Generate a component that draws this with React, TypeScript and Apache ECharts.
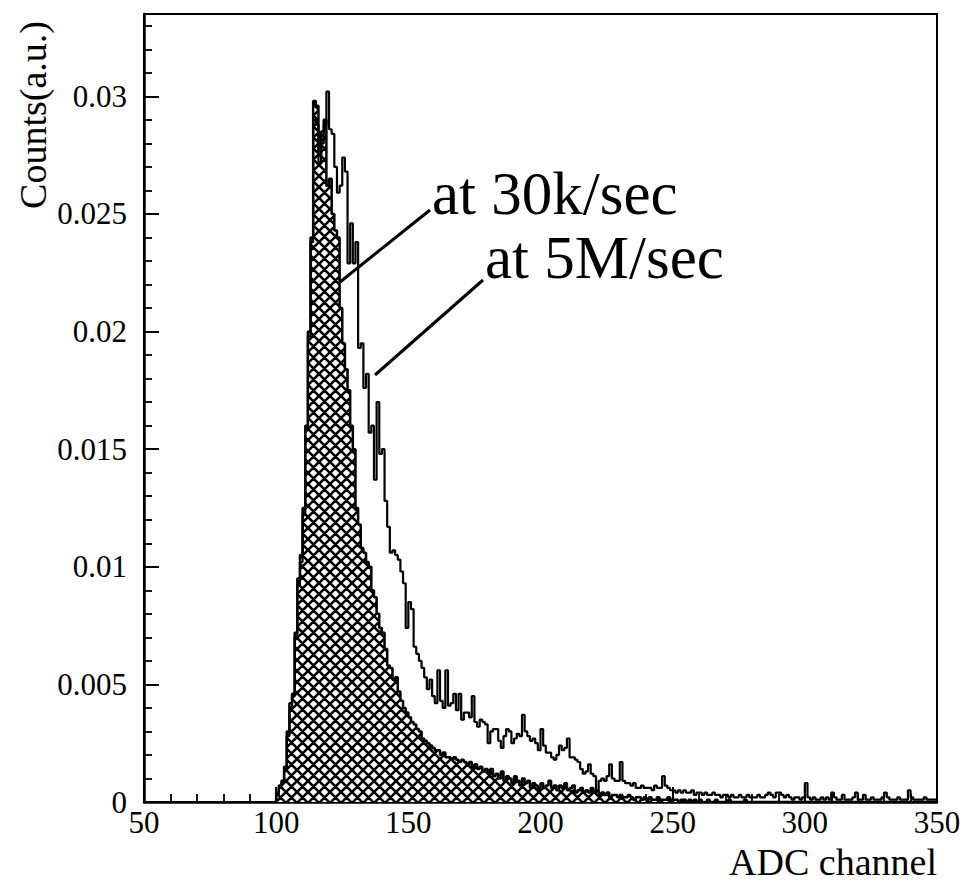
import React, { useEffect, useRef } from "react";
import * as echarts from "echarts";

// ---- data (bins of 1 ADC channel, starting at channel 100) ----
const FIRST_CHANNEL = 100;
const BIN_WIDTH = 1;

// hatched histogram: "at 30k/sec"
const rate30k = [
  0.0004, 0.0007, 0.0009, 0.0015, 0.0030, 0.0042, 0.0046, 0.0072, 0.0095, 0.0105,
  0.0125, 0.0160, 0.0200, 0.0240, 0.0298, 0.0296, 0.0275, 0.0285, 0.0290, 0.0262,
  0.0265, 0.0250, 0.0243, 0.0240, 0.0210, 0.0195, 0.0184, 0.0175, 0.0160, 0.0150,
  0.0125, 0.0118, 0.0108, 0.0106, 0.0102, 0.0100, 0.0090, 0.0087, 0.0080, 0.0074,
  0.0072, 0.0065, 0.0058, 0.0057, 0.0052, 0.0053, 0.0047, 0.0043, 0.0040, 0.0038,
  0.0036, 0.0034, 0.0033, 0.0031, 0.0030, 0.0027, 0.0026, 0.0025, 0.0024, 0.0023,
  0.0022, 0.0022, 0.0020, 0.0021, 0.0019, 0.0019, 0.0018, 0.0019, 0.0018, 0.0017,
  0.0018, 0.0017, 0.0016, 0.0017, 0.0015, 0.0016, 0.0014, 0.0015, 0.0013, 0.0014,
  0.0012, 0.0014, 0.0011, 0.0012, 0.0010, 0.0013, 0.0009, 0.0011, 0.0010, 0.0008,
  0.0011, 0.0009, 0.0007, 0.0010, 0.0008, 0.0009, 0.0006, 0.0008, 0.0007, 0.0005,
  0.0008, 0.0006, 0.0007, 0.0009, 0.0006, 0.0007, 0.0005, 0.0007, 0.0006, 0.0008,
  0.0005, 0.0006, 0.0007, 0.0004, 0.0005, 0.0006, 0.0004, 0.0005, 0.0004, 0.0006,
  0.0004, 0.0005, 0.0003, 0.0004, 0.0003, 0.0004, 0.0002, 0.0003, 0.0003, 0.0002,
  0.0003, 0.0002, 0.0002, 0.0003, 0.0002, 0.0001, 0.0002, 0.0002, 0.0001, 0.0002,
  0.0001, 0.0002, 0.0001, 0.0001, 0.0002, 0.0001, 0.0001, 0.0001, 0.0002, 0.0001,
  0.0001, 0.0001, 0.0000, 0.0001, 0.0001, 0.0000, 0.0001, 0.0000, 0.0001, 0.0000,
  0.0001, 0.0000, 0.0000, 0.0001, 0.0000, 0.0000, 0.0001, 0.0000, 0.0000, 0.0000,
  0.0000, 0.0001, 0.0000, 0.0000, 0.0000, 0.0000, 0.0000, 0.0001, 0.0000, 0.0000,
  0.0000, 0.0000, 0.0000, 0.0000, 0.0000, 0.0000, 0.0000, 0.0000, 0.0000, 0.0000,
  0.0000, 0.0000, 0.0000, 0.0000, 0.0000, 0.0000, 0.0000, 0.0000, 0.0000, 0.0000,
  0.0000, 0.0000, 0.0000, 0.0000, 0.0000, 0.0000, 0.0000, 0.0000, 0.0000, 0.0000,
  0.0000, 0.0000, 0.0000, 0.0000, 0.0000, 0.0000, 0.0000, 0.0000, 0.0000, 0.0000,
  0.0000, 0.0000, 0.0000, 0.0000, 0.0000, 0.0000, 0.0000, 0.0000, 0.0000, 0.0000,
  0.0000, 0.0000, 0.0000, 0.0000, 0.0000, 0.0000, 0.0000, 0.0000, 0.0000, 0.0000,
  0.0000, 0.0000, 0.0000, 0.0000, 0.0000, 0.0000, 0.0000, 0.0000, 0.0000, 0.0000,
];

// open histogram: "at 5M/sec"
const rate5M = [
  0.0003, 0.0006, 0.0008, 0.0014, 0.0028, 0.0040, 0.0045, 0.0070, 0.0092, 0.0102,
  0.0122, 0.0158, 0.0198, 0.0238, 0.0290, 0.0288, 0.0272, 0.0280, 0.0288, 0.0302,
  0.0286, 0.0284, 0.0270, 0.0259, 0.0262, 0.0274, 0.0268, 0.0229, 0.0246, 0.0229,
  0.0238, 0.0193, 0.0195, 0.0176, 0.0182, 0.0157, 0.0160, 0.0137, 0.0170, 0.0148,
  0.0150, 0.0128, 0.0117, 0.0106, 0.0107, 0.0105, 0.0103, 0.0098, 0.0093, 0.0074,
  0.0085, 0.0082, 0.0066, 0.0063, 0.0060, 0.0057, 0.0053, 0.0048, 0.0052, 0.0045,
  0.0042, 0.0056, 0.0043, 0.0040, 0.0056, 0.0041, 0.0042, 0.0046, 0.0039, 0.0046,
  0.0035, 0.0038, 0.0038, 0.0036, 0.0045, 0.0034, 0.0032, 0.0035, 0.0034, 0.0033,
  0.0025, 0.0030, 0.0031, 0.0031, 0.0026, 0.0023, 0.0028, 0.0031, 0.0030, 0.0025,
  0.0027, 0.0029, 0.0028, 0.0037, 0.0030, 0.0028, 0.0026, 0.0027, 0.0025, 0.0022,
  0.0031, 0.0024, 0.0021, 0.0021, 0.0019, 0.0018, 0.0020, 0.0024, 0.0022, 0.0023,
  0.0027, 0.0019, 0.0019, 0.0018, 0.0017, 0.0014, 0.0012, 0.0013, 0.0016, 0.0012,
  0.0011, 0.0005, 0.0009, 0.0010, 0.0009, 0.0011, 0.0016, 0.0010, 0.0009, 0.0009,
  0.0017, 0.0009, 0.0008, 0.0008, 0.0007, 0.0008, 0.0006, 0.0006, 0.0007, 0.0006,
  0.0006, 0.0006, 0.0005, 0.0007, 0.0006, 0.0006, 0.0011, 0.0007, 0.0006, 0.0005,
  0.0005, 0.0004, 0.0005, 0.0004, 0.0005, 0.0004, 0.0004, 0.0005, 0.0003, 0.0004,
  0.0004, 0.0003, 0.0004, 0.0003, 0.0003, 0.0004, 0.0003, 0.0003, 0.0002, 0.0003,
  0.0003, 0.0002, 0.0003, 0.0002, 0.0002, 0.0003, 0.0002, 0.0002, 0.0003, 0.0002,
  0.0002, 0.0002, 0.0003, 0.0002, 0.0002, 0.0003, 0.0004, 0.0003, 0.0002, 0.0004,
  0.0004, 0.0003, 0.0002, 0.0003, 0.0002, 0.0001, 0.0002, 0.0002, 0.0001, 0.0002,
  0.0008, 0.0002, 0.0001, 0.0002, 0.0001, 0.0001, 0.0002, 0.0001, 0.0002, 0.0001,
  0.0004, 0.0002, 0.0001, 0.0001, 0.0003, 0.0001, 0.0001, 0.0001, 0.0002, 0.0004,
  0.0001, 0.0001, 0.0003, 0.0001, 0.0001, 0.0002, 0.0001, 0.0001, 0.0001, 0.0002,
  0.0004, 0.0002, 0.0001, 0.0001, 0.0001, 0.0002, 0.0001, 0.0001, 0.0001, 0.0005,
  0.0002, 0.0001, 0.0001, 0.0001, 0.0001, 0.0002, 0.0001, 0.0001, 0.0001, 0.0001,
];

// axes
const X_MIN = 50;
const X_MAX = 350;
const X_STEP = 50;
const Y_MIN = 0;
const Y_MAX = 0.0335;
const Y_STEP = 0.005;
const Y_MINOR_STEP = 0.001;

const xAxisTitle = "ADC channel";
const yAxisTitle = "Counts(a.u.)";
const label30k = "at 30k/sec";
const label5M = "at 5M/sec";

const FONT = "Liberation Serif";

function toSteps(vals: number[]): number[][] {
  const pts: number[][] = [[FIRST_CHANNEL, 0]];
  vals.forEach((v, i) => pts.push([FIRST_CHANNEL + i * BIN_WIDTH, v]));
  pts.push([FIRST_CHANNEL + vals.length * BIN_WIDTH, 0]);
  return pts;
}

function makeHatch(): HTMLCanvasElement {
  const s = 11;
  const c = document.createElement("canvas");
  c.width = s;
  c.height = s;
  const ctx = c.getContext("2d")!;
  ctx.fillStyle = "#ffffff";
  ctx.fillRect(0, 0, s, s);
  ctx.strokeStyle = "#000000";
  ctx.lineWidth = 2.6;
  ctx.beginPath();
  for (const d of [-s, 0, s]) {
    ctx.moveTo(-1 + d, -1);
    ctx.lineTo(s + 1 + d, s + 1);
    ctx.moveTo(-1 + d, s + 1);
    ctx.lineTo(s + 1 + d, -1);
  }
  ctx.stroke();
  return c;
}

export default function App() {
  const ref = useRef<HTMLDivElement>(null);

  useEffect(() => {
    if (!ref.current) return;
    const chart = echarts.init(ref.current, null, { renderer: "svg" });
    const hatch = makeHatch();

    const textStyle = (size: number, align: string) => ({
      fill: "#000",
      fontFamily: FONT,
      fontSize: size,
      font: `${size}px ${FONT}`,
      textAlign: align,
      align,
      textVerticalAlign: "middle",
      verticalAlign: "middle",
    });

    const option: any = {
      animation: false,
      backgroundColor: "#ffffff",
      textStyle: { fontFamily: FONT },
      grid: {
        left: 144,
        right: 34,
        top: 14,
        bottom: 81,
        show: true,
        borderColor: "#000",
        borderWidth: 2,
        backgroundColor: "transparent",
      },
      xAxis: {
        type: "value",
        min: X_MIN,
        max: X_MAX,
        interval: X_STEP,
        axisLine: { show: true, lineStyle: { color: "#000", width: 2.5 } },
        axisTick: { show: true, inside: true, length: 15, lineStyle: { color: "#000", width: 2 } },
        minorTick: { show: true, splitNumber: 5, length: 8, lineStyle: { color: "#000", width: 1.8 } },
        axisLabel: { color: "#000", fontFamily: FONT, fontSize: 31, margin: 5 },
        splitLine: { show: false },
        minorSplitLine: { show: false },
      },
      yAxis: [
        {
          type: "value",
          min: Y_MIN,
          max: Y_MAX,
          interval: Y_STEP,
          position: "left",
          axisLine: { show: true, lineStyle: { color: "#000", width: 2.5 } },
          axisTick: { show: true, inside: true, length: 15, lineStyle: { color: "#000", width: 2 } },
          axisLabel: {
            color: "#000",
            fontFamily: FONT,
            fontSize: 31,
            margin: 17,
            showMaxLabel: false,
            formatter: (v: number) => String(+v.toFixed(4)),
          },
          splitLine: { show: false },
        },
        {
          type: "value",
          min: Y_MIN,
          max: Y_MAX,
          interval: Y_MINOR_STEP,
          position: "left",
          offset: 0,
          axisLine: { show: false },
          axisTick: { show: true, inside: true, length: 8, lineStyle: { color: "#000", width: 1.8 } },
          axisLabel: { show: false },
          splitLine: { show: false },
        },
      ],
      series: [
        {
          name: label30k,
          type: "line",
          step: "end",
          symbol: "none",
          yAxisIndex: 0,
          data: toSteps(rate30k),
          lineStyle: { color: "#000", width: 2.5 },
          areaStyle: {
            color: { image: hatch, repeat: "repeat", imageWidth: 11, imageHeight: 11 },
            opacity: 1,
          },
          z: 2,
        },
        {
          name: label5M,
          type: "line",
          step: "end",
          symbol: "none",
          yAxisIndex: 0,
          data: toSteps(rate5M),
          lineStyle: { color: "#000", width: 2.2 },
          z: 3,
        },
      ],
      graphic: [
        {
          type: "text",
          x: 33,
          y: 115,
          rotation: Math.PI / 2,
          style: { text: yAxisTitle, ...textStyle(38, "center") },
        },
        {
          type: "text",
          x: 937,
          y: 862,
          style: { text: xAxisTitle, ...textStyle(38, "right") },
        },
        {
          type: "text",
          x: 432,
          y: 193,
          style: { text: label30k, ...textStyle(61, "left") },
        },
        {
          type: "text",
          x: 485,
          y: 257,
          style: { text: label5M, ...textStyle(61, "left") },
        },
        {
          type: "line",
          shape: { x1: 340, y1: 282, x2: 430, y2: 210 },
          style: { stroke: "#000", lineWidth: 3 },
          z: 10,
        },
        {
          type: "line",
          shape: { x1: 375, y1: 375, x2: 483, y2: 280 },
          style: { stroke: "#000", lineWidth: 3 },
          z: 10,
        },
      ],
    };

    chart.setOption(option);
    return () => chart.dispose();
  }, []);

  return (
    <div
      ref={ref}
      style={{ position: "absolute", left: 0, top: 0, width: 971, height: 883, background: "#fff" }}
    />
  );
}
